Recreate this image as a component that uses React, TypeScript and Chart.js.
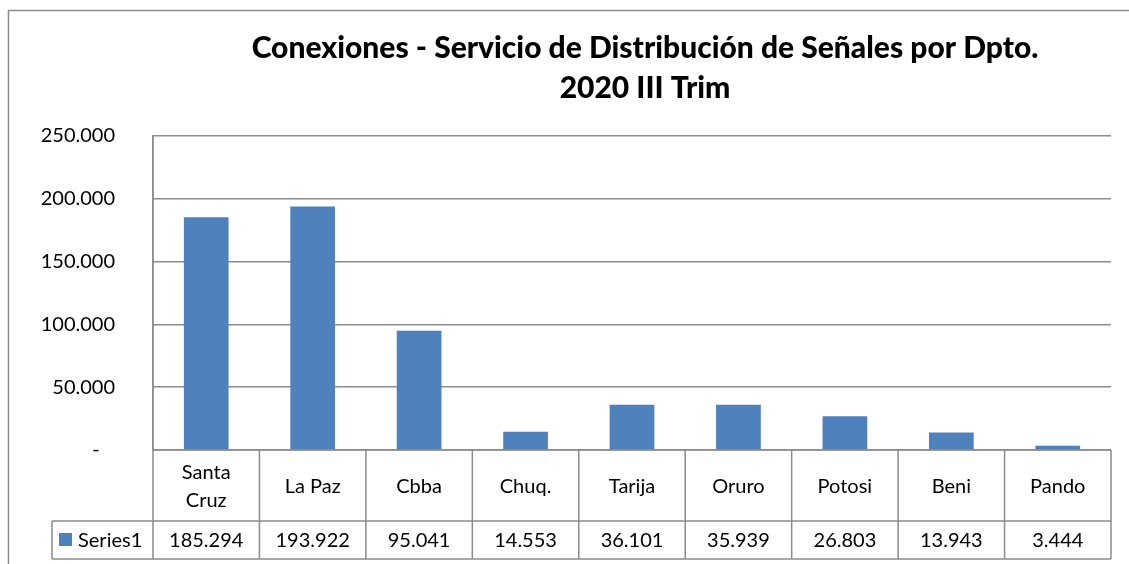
import React, { useEffect, useRef } from "react";
import { Chart, registerables } from "chart.js";

Chart.register(...registerables);

const titleLines = ["Conexiones - Servicio de Distribución de Señales por Dpto.", "2020 III Trim"];
const categories: (string | string[])[] = [["Santa", "Cruz"], "La Paz", "Cbba", "Chuq.", "Tarija", "Oruro", "Potosi", "Beni", "Pando"];
const seriesName = "Series1";
const seriesValues = [185294, 193922, 95041, 14553, 36101, 35939, 26803, 13943, 3444];
const yMax = 250000;
const yStep = 50000;

const FONT = "Lato, 'Open Sans', sans-serif";
const LINE = "#8c8c8c";
const BAR = "#4F81BD";

function fmt(v: number): string {
  if (v === 0) return "-   ";
  return Math.round(v).toString().replace(/\B(?=(\d{3})+(?!\d))/g, ".");
}

const tablePlugin = {
  id: "tablePlugin",
  afterDraw(chart: any) {
    const ctx = chart.ctx as CanvasRenderingContext2D;
    const area = chart.chartArea;
    const xs = chart.scales.x;
    const n = categories.length;
    const cw = (area.right - area.left) / n;
    const top = area.bottom;
    const rowSplit = top + 71;
    const bottom = rowSplit + 38;
    const legendLeft = 52;

    ctx.save();
    // outer frame
    ctx.strokeStyle = LINE;
    ctx.lineWidth = 1.5;
    ctx.strokeRect(8.5, 10.5, chart.width + 20, chart.height + 20);

    // title
    ctx.fillStyle = "#000";
    ctx.textAlign = "center";
    ctx.textBaseline = "alphabetic";
    ctx.font = `900 30px ${FONT}`;
    const tx = 645;
    ctx.fillText(titleLines[0], tx, 58);
    ctx.fillText(titleLines[1], tx, 98);

    // table lines
    ctx.strokeStyle = LINE;
    ctx.lineWidth = 1.5;
    ctx.beginPath();
    ctx.moveTo(area.left, top);
    ctx.lineTo(area.right, top);
    ctx.moveTo(legendLeft, rowSplit);
    ctx.lineTo(area.right, rowSplit);
    ctx.moveTo(legendLeft, bottom);
    ctx.lineTo(area.right, bottom);
    ctx.moveTo(legendLeft, rowSplit);
    ctx.lineTo(legendLeft, bottom);
    for (let i = 0; i <= n; i++) {
      const x = xs.getPixelForValue(0) - cw / 2 + i * cw;
      ctx.moveTo(x, i === 0 ? area.top : top);
      ctx.lineTo(x, bottom);
    }
    ctx.stroke();

    // category labels
    ctx.font = `20px ${FONT}`;
    ctx.fillStyle = "#000";
    ctx.textAlign = "center";
    ctx.textBaseline = "middle";
    const catMid = (top + rowSplit) / 2;
    const valMid = (rowSplit + bottom) / 2;
    categories.forEach((c, i) => {
      const cx = xs.getPixelForValue(i);
      const lines = Array.isArray(c) ? c : [c];
      const lh = 28;
      lines.forEach((l, j) => {
        ctx.fillText(l, cx, catMid + (j - (lines.length - 1) / 2) * lh + 1);
      });
      ctx.fillText(fmt(seriesValues[i]), cx, valMid + 1);
    });

    // legend key
    ctx.fillStyle = BAR;
    ctx.fillRect(59, valMid - 7, 13, 13);
    ctx.fillStyle = "#000";
    ctx.textAlign = "left";
    ctx.fillText(seriesName, 78, valMid + 1);
    ctx.restore();
  },
};

export default function App() {
  const ref = useRef<HTMLCanvasElement>(null);
  useEffect(() => {
    if (!ref.current) return;
    const chart = new Chart(ref.current, {
      type: "bar",
      data: {
        labels: categories as any,
        datasets: [
          {
            label: seriesName,
            data: seriesValues,
            backgroundColor: BAR,
            barPercentage: 0.42,
            categoryPercentage: 1,
          },
        ],
      },
      options: {
        responsive: false,
        animation: false,
        layout: { padding: { left: 0, right: 18, top: 136, bottom: 114 } },
        plugins: { legend: { display: false }, title: { display: false }, tooltip: { enabled: false } },
        scales: {
          x: { display: false, offset: true },
          y: {
            min: 0,
            max: yMax,
            afterFit: (s: any) => {
              s.width = 153;
            },
            ticks: {
              stepSize: yStep,
              padding: 38,
              color: "#000",
              font: { family: FONT, size: 20 },
              callback: (v: any) => fmt(Number(v)),
            },
            grid: { color: LINE, lineWidth: 1.5, drawTicks: false },
            border: { display: true, color: LINE, width: 1.5 },
          },
        },
      },
      plugins: [tablePlugin],
    });
    return () => chart.destroy();
  }, []);
  return (
    <div style={{ position: "absolute", left: 0, top: 0, width: 1129, height: 564, background: "#fff" }}>
      <canvas ref={ref} width={1129} height={564} />
    </div>
  );
}
